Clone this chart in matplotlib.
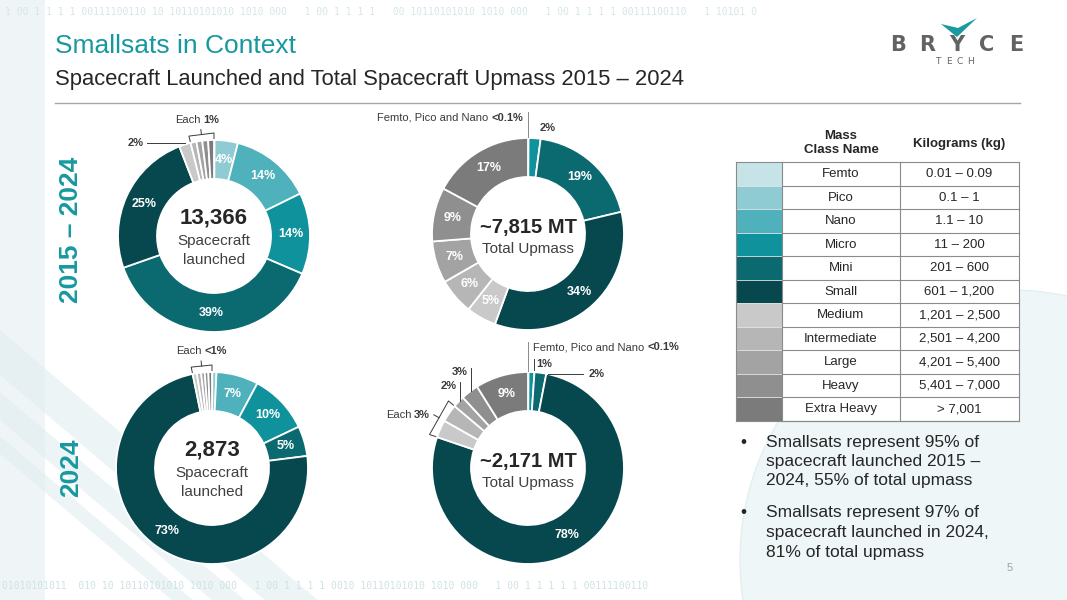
import numpy as np
import matplotlib.pyplot as plt
from matplotlib.patches import Rectangle, Circle, Polygon

plt.rcParams['font.family'] = ['Liberation Sans', 'DejaVu Sans']

W, H = 1067, 600

# mass classes (legend table)
classes = ["Femto", "Pico", "Nano", "Micro", "Mini", "Small",
           "Medium", "Intermediate", "Large", "Heavy", "Extra Heavy"]
kg_ranges = ["0.01 – 0.09", "0.1 – 1", "1.1 – 10", "11 – 200", "201 – 600",
             "601 – 1,200", "1,201 – 2,500", "2,501 – 4,200", "4,201 – 5,400",
             "5,401 – 7,000", "> 7,001"]
class_colors = ["#c6e4e8", "#8fcbd2", "#4fb1bb", "#0f929c", "#0b6970", "#06484e",
                "#c9c9c9", "#b6b6b6", "#a3a3a3", "#8f8f8f", "#7b7b7b"]

# share of each class in %, read off the rings (tiny slivers estimated)
launched_2015_2024 = [0.1, 4, 14, 14, 39, 25, 2, 1, 1, 1, 1]
upmass_2015_2024 = [0.03, 0.03, 0.03, 2, 19, 34, 5, 6, 7, 9, 17]
launched_2024 = [0.05, 0.7, 7, 10, 5, 73, 0.7, 0.7, 0.6, 0.6, 0.6]
upmass_2024 = [0.03, 0.03, 0.03, 1, 2, 78, 3, 3, 2, 3, 9]

totals = ["13,366", "~7,815 MT", "2,873", "~2,171 MT"]

bullets = [["Smallsats represent 95% of", "spacecraft launched 2015 –", "2024, 55% of total upmass"],
           ["Smallsats represent 97% of", "spacecraft launched in 2024,", "81% of total upmass"]]

TEAL = "#1798a0"
DARK = "#262626"
ANN = "#3a3a3a"
R_OUT, R_IN = 96, 57

fig = plt.figure(figsize=(W / 100, H / 100), dpi=100)
ax = fig.add_axes([0, 0, 1, 1])


def Y(py):
    return H - py


def pt(cx, cy, r, ang):
    a = np.deg2rad(ang)
    return cx + r * np.cos(a), Y(cy) + r * np.sin(a)


def donut(values, cx, cy):
    wedges, _ = ax.pie(values, colors=class_colors, startangle=90, counterclock=False,
                       center=(cx, Y(cy)), radius=R_OUT,
                       wedgeprops=dict(width=R_OUT - R_IN, edgecolor="white", linewidth=1.3))
    for w in wedges:
        w.set_zorder(2)
    ax.add_patch(Circle((cx, Y(cy)), R_IN - 0.5, fc="white", ec="none", zorder=1.5))
    for w, v in zip(wedges, values):
        if v >= 4:
            x, y = pt(cx, cy, 77, (w.theta1 + w.theta2) / 2)
            ax.text(x, y, f"{v:g}%", color="white", fontsize=9, fontweight="bold",
                    ha="center", va="center", zorder=3)
    return wedges


# ---- faint slide background ----
ax.add_patch(Rectangle((0, 0), 45, H, fc="#eff5f6", ec="none", zorder=0))
ax.add_patch(Circle((1010, Y(560)), 270, fc="#eef6f7", ec="#e2eff0", lw=1, zorder=0))
for y0, wd in [(330, 45), (392, 28), (436, 18)]:
    ax.add_patch(Polygon([(0, Y(y0)), (0, Y(y0 + wd)),
                          ((600 - y0 - wd) / 0.85, Y(600)), ((600 - y0) / 0.85, Y(600))],
                         closed=True, fc="#e1eef0", ec="none", alpha=0.6, zorder=0))
ax.text(5, Y(12), "1 00 1 1 1 1 00111100110 10 10110101010 1010 000   1 00 1 1 1 1   00 "
        "10110101010 1010 000   1 00 1 1 1 1 00111100110   1 10101 0",
        fontsize=7, family="DejaVu Sans Mono", color="#d6e6e9", va="center", zorder=0)
ax.text(2, Y(586), "01010101011  010 10 10110101010 1010 000   1 00 1 1 1 1 0010 "
        "10110101010 1010 000   1 00 1 1 1 1 1 00111100110",
        fontsize=7, family="DejaVu Sans Mono", color="#cfe2e5", va="center", zorder=0)

# ---- header ----
ax.text(55, Y(46), "Smallsats in Context", fontsize=19, color=TEAL, va="center")
ax.text(55, Y(80), "Spacecraft Launched and Total Spacecraft Upmass 2015 – 2024",
        fontsize=15.8, color=DARK, va="center")
ax.plot([55, 1020], [Y(103), Y(103)], color="#a6a6a6", lw=1)

# logo
ax.add_patch(Polygon([(941, Y(24)), (957, Y(37)), (977, Y(18)), (958, Y(28))],
                     closed=True, fc="#1a9aa0", ec="none"))
for i, ch in enumerate("BRYCE"):
    ax.text(898 + i * 29.5, Y(45), ch, fontsize=15, fontweight="bold", color="#616264",
            ha="center", va="center", family="DejaVu Sans")
for i, ch in enumerate("TECH"):
    ax.text(938 + i * 11, Y(62), ch, fontsize=6.5, color="#616264", ha="center",
            va="center", family="DejaVu Sans")

# left period labels
ax.text(71, Y(230), "2015 – 2024", rotation=90, fontsize=19, fontweight="bold",
        color=TEAL, ha="center", va="center")
ax.text(71, Y(468), "2024", rotation=90, fontsize=19, fontweight="bold",
        color=TEAL, ha="center", va="center")

# ---- donuts ----
c1, c2, c3, c4 = (214, 236), (528, 234), (212, 468), (528, 468)
w1 = donut(launched_2015_2024, *c1)
w2 = donut(upmass_2015_2024, *c2)
w3 = donut(launched_2024, *c3)
w4 = donut(upmass_2024, *c4)

ax.set_xlim(0, W)
ax.set_ylim(0, H)
ax.set_aspect("equal")
ax.axis("off")

# centre texts
for (cx, cy), tot in [(c1, totals[0]), (c3, totals[2])]:
    ax.text(cx, Y(cy - 18), tot, fontsize=16, fontweight="bold", color=DARK,
            ha="center", va="center", zorder=4)
    ax.text(cx, Y(cy + 5), "Spacecraft", fontsize=11, color="#404040",
            ha="center", va="center", zorder=4)
    ax.text(cx, Y(cy + 24), "launched", fontsize=11, color="#404040",
            ha="center", va="center", zorder=4)
for (cx, cy), tot in [(c2, totals[1]), (c4, totals[3])]:
    ax.text(cx, Y(cy - 6), tot, fontsize=14.5, fontweight="bold", color=DARK,
            ha="center", va="center", zorder=4)
    ax.text(cx, Y(cy + 15), "Total Upmass", fontsize=11, color="#404040",
            ha="center", va="center", zorder=4)

renderer = fig.canvas.get_renderer()


def mixed(x, y, parts, ha="left", size=8):
    """Draw text made of (string, weight) parts on one baseline."""
    items = []
    for s, wt in parts:
        t = ax.text(0, y, s, fontsize=size, fontweight=wt, color=ANN,
                    ha="left", va="center", zorder=4)
        items.append((t, t.get_window_extent(renderer).width))
    gap = size * 1.389 * 0.25
    total = sum(wd for _, wd in items) + gap * (len(items) - 1)
    x0 = x if ha == "left" else (x - total if ha == "right" else x - total / 2)
    for t, wd in items:
        t.set_x(x0)
        x0 += wd + gap


def bracket(cx, cy, a_lo, a_hi, d=7, tick=5):
    p_lo_in, p_lo = pt(cx, cy, R_OUT + 1.5, a_lo), pt(cx, cy, R_OUT + d, a_lo)
    p_hi_in, p_hi = pt(cx, cy, R_OUT + 1.5, a_hi), pt(cx, cy, R_OUT + d, a_hi)
    ax.plot([p_lo_in[0], p_lo[0], p_hi[0], p_hi_in[0]],
            [p_lo_in[1], p_lo[1], p_hi[1], p_hi_in[1]], color=ANN, lw=0.7)
    mx, my = (p_lo[0] + p_hi[0]) / 2, (p_lo[1] + p_hi[1]) / 2
    a = np.deg2rad((a_lo + a_hi) / 2)
    ex, ey = mx + tick * np.cos(a), my + tick * np.sin(a)
    ax.plot([mx, ex], [my, ey], color=ANN, lw=0.7)
    return ex, ey


def mid(w):
    return (w.theta1 + w.theta2) / 2


# donut 1 call-outs
ex, ey = bracket(*c1, w1[10].theta1, w1[7].theta2)
mixed(ex - 4, ey + 10, [("Each", "normal"), ("1%", "bold")], ha="center")
px, py = pt(*c1, R_OUT, mid(w1[6]))
ax.plot([px, px - 38], [py + 2, py + 2], color=ANN, lw=0.7)
mixed(px - 41, py + 2, [("2%", "bold")], ha="right")

# donut 2 call-outs
tx, ty = pt(*c2, R_OUT, 90)
ax.plot([tx, tx], [ty + 1, ty + 26], color="#8a8a8a", lw=0.7)
mixed(tx - 5, ty + 20, [("Femto, Pico and Nano", "normal"), ("<0.1%", "bold")], ha="right")
px, py = pt(*c2, R_OUT + 10, mid(w2[3]))
mixed(px + 4, py, [("2%", "bold")])

# donut 3 call-outs
ex, ey = bracket(*c3, w3[10].theta1, w3[6].theta2)
mixed(ex, ey + 10, [("Each", "normal"), ("<1%", "bold")], ha="center")

# donut 4 call-outs
tx, ty = pt(*c4, R_OUT, 90)
ax.plot([tx, tx], [ty + 1, ty + 30], color="#8a8a8a", lw=0.7)
mixed(tx + 5, ty + 25, [("Femto, Pico and Nano", "normal"), ("<0.1%", "bold")])
px, py = pt(*c4, R_OUT, mid(w4[3]))
ax.plot([px + 2, px + 2], [py + 2, py + 13], color=ANN, lw=0.7)
mixed(px + 5, py + 8, [("1%", "bold")])
px, py = pt(*c4, R_OUT, mid(w4[4]))
ax.plot([px + 8, px + 43], [py - 1, py - 1], color=ANN, lw=0.7)
mixed(px + 48, py - 1, [("2%", "bold")])
for idx, ln in [(9, 24), (8, 20)]:
    px, py = pt(*c4, R_OUT, mid(w4[idx]))
    ax.plot([px + 1, px + 1], [py + 1, py + ln], color=ANN, lw=0.7)
    mixed(px - 2, py + ln - 4, [(f"{upmass_2024[idx]:g}%", "bold")], ha="right")
ex, ey = bracket(*c4, w4[7].theta1, w4[6].theta2, d=8, tick=6)
mixed(ex - 4, ey, [("Each", "normal"), ("3%", "bold")], ha="right")

# ---- legend table ----
tx0, tx1, tx2, tx3 = 736, 782, 900, 1019
row_top, row_h = 162.3, 23.5
ax.text((tx1 + tx2) / 2, Y(143), "Mass\nClass Name", fontsize=9.5, fontweight="bold",
        color=DARK, ha="center", va="center", linespacing=1.15)
ax.text((tx2 + tx3) / 2, Y(144), "Kilograms (kg)", fontsize=9.5, fontweight="bold",
        color=DARK, ha="center", va="center")
for i, (name, rng, col) in enumerate(zip(classes, kg_ranges, class_colors)):
    yb = Y(row_top + (i + 1) * row_h)
    ax.add_patch(Rectangle((tx0, yb), tx1 - tx0, row_h, fc=col, ec="#e6e6e6", lw=0.5, zorder=2))
    ax.add_patch(Rectangle((tx1, yb), tx3 - tx1, row_h, fc="white", ec="none", zorder=1.8))
    ax.text((tx1 + tx2) / 2, yb + row_h / 2, name, fontsize=9.5, color=DARK,
            ha="center", va="center", zorder=3)
    ax.text((tx2 + tx3) / 2, yb + row_h / 2, rng, fontsize=9.5, color=DARK,
            ha="center", va="center", zorder=3)
    ax.plot([tx1, tx3], [yb, yb], color="#8a8a8a", lw=0.8, zorder=2.5)
ax.plot([tx0, tx3], [Y(row_top), Y(row_top)], color="#8a8a8a", lw=0.8, zorder=2.5)
y_bot = Y(row_top + len(classes) * row_h)
for x in [tx0, tx1, tx2, tx3]:
    ax.plot([x, x], [Y(row_top), y_bot], color="#8a8a8a", lw=0.8, zorder=2.5)
ax.plot([tx0, tx3], [y_bot, y_bot], color="#8a8a8a", lw=0.8, zorder=2.5)

# ---- bullets ----
for y0, lines in zip([442, 513], bullets):
    ax.text(743, Y(y0), "•", fontsize=12.5, color=DARK, va="center", ha="center")
    for k, line in enumerate(lines):
        ax.text(766, Y(y0 + k * 19.5), line, fontsize=12.5, color=DARK, va="center")

ax.text(1010, Y(568), "5", fontsize=8, color="#a0a0a0", ha="center", va="center")

fig.savefig("out.png", dpi=100)
